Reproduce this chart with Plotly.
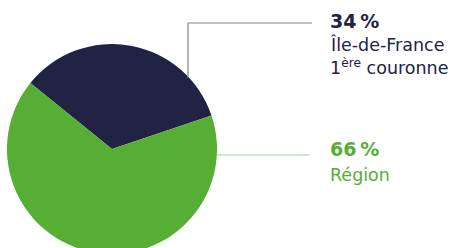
import plotly.graph_objects as go

labels = ["Île-de-France 1ère couronne", "Région"]
values = [34, 66]
pct_labels = ["34\u2009%", "66\u2009%"]
name_lines = [["Île-de-France", "1<sup>ère</sup> couronne"], ["Région"]]
colors = ["#222245", "#56ae34"]

W, H = 457, 260
cx, cy, r = 112, 149, 105  # pixel center / radius

fig = go.Figure(go.Pie(
    labels=labels, values=values, sort=False, direction="clockwise",
    rotation=-51, marker=dict(colors=colors, line=dict(width=0)),
    textinfo="none", hoverinfo="label+percent", showlegend=False,
    domain=dict(x=[(cx - r) / W, (cx + r) / W], y=[(H - cy - r) / H, (H - cy + r) / H]),
))

def px(x):
    return x / W

def py(y):
    return 1 - y / H

# leader lines
fig.add_shape(type="line", xref="paper", yref="paper", x0=px(188), y0=py(78), x1=px(188), y1=py(23),
              line=dict(color="#7e819c", width=1.2))
fig.add_shape(type="line", xref="paper", yref="paper", x0=px(188), y0=py(23), x1=px(312), y1=py(23),
              line=dict(color="#7e819c", width=1.2))
fig.add_shape(type="line", xref="paper", yref="paper", x0=px(217), y0=py(155), x1=px(310), y1=py(155),
              line=dict(color="#a6d68f", width=1.2))

font = "DejaVu Sans, sans-serif"
pct_y = [21, 149]
name_y = [[44.5, 66.5], [174.5]]
for i in range(2):
    fig.add_annotation(x=px(328), y=py(pct_y[i]), xref="paper", yref="paper", xanchor="left", yanchor="middle",
                       text="<b>" + pct_labels[i] + "</b>", showarrow=False,
                       font=dict(family=font, size=19, color=colors[i]))
    for line, yy in zip(name_lines[i], name_y[i]):
        fig.add_annotation(x=px(328), y=py(yy), xref="paper", yref="paper", xanchor="left", yanchor="middle",
                           text=line, showarrow=False, align="left",
                           font=dict(family=font, size=17.5, color=colors[i]))

fig.update_layout(width=W, height=H, margin=dict(l=0, r=0, t=0, b=0),
                  paper_bgcolor="white", plot_bgcolor="white")

fig.write_html("out.html", config={"displayModeBar": False},
               post_script="document.body.style.margin='0';document.body.style.overflow='hidden';document.documentElement.style.overflow='hidden';")
